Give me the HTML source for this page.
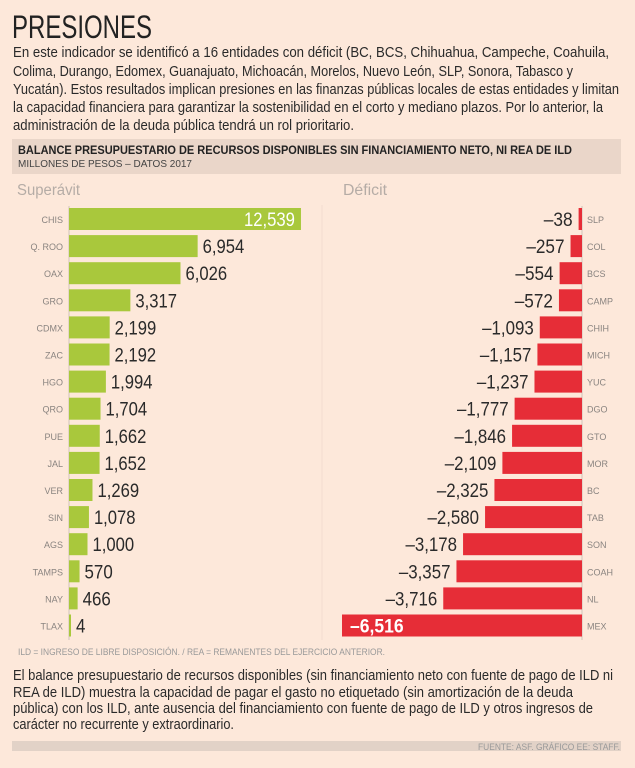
<!DOCTYPE html>
<html><head><meta charset="utf-8"><style>
body{margin:0;background:#fde8da;width:635px;height:768px;overflow:hidden}
svg{position:absolute;left:0;top:0}
</style></head><body>
<svg width="635" height="768" id="s" font-family="Liberation Sans, sans-serif" fill="#2a2a2a">
<text x="12" y="38" font-size="32" textLength="140" lengthAdjust="spacingAndGlyphs" fill="#222">PRESIONES</text>
<g font-size="14.5">
<text x="13" y="57" textLength="596" lengthAdjust="spacingAndGlyphs">En este indicador se identificó a 16 entidades con déficit (BC, BCS, Chihuahua, Campeche, Coahuila,</text>
<text x="13" y="76" textLength="560" lengthAdjust="spacingAndGlyphs">Colima, Durango, Edomex, Guanajuato, Michoacán, Morelos, Nuevo León, SLP, Sonora, Tabasco y</text>
<text x="13" y="94" textLength="606" lengthAdjust="spacingAndGlyphs">Yucatán). Estos resultados implican presiones en las finanzas públicas locales de estas entidades y limitan</text>
<text x="13" y="112" textLength="590" lengthAdjust="spacingAndGlyphs">la capacidad financiera para garantizar la sostenibilidad en el corto y mediano plazos. Por lo anterior, la</text>
<text x="13" y="130" textLength="341" lengthAdjust="spacingAndGlyphs">administración de la deuda pública tendrá un rol prioritario.</text>
</g>
<rect x="12" y="139" width="609" height="35" fill="#ead6c9"/>
<text x="18" y="154" font-size="11.5" font-weight="bold" fill="#222" textLength="554" lengthAdjust="spacingAndGlyphs">BALANCE PRESUPUESTARIO DE RECURSOS DISPONIBLES SIN FINANCIAMIENTO NETO, NI REA DE ILD</text>
<text x="18" y="167" font-size="10.5" fill="#444" textLength="174" lengthAdjust="spacingAndGlyphs">MILLONES DE PESOS – DATOS 2017</text>
<text x="17" y="195" font-size="15.5" fill="#b5aca6" textLength="63" lengthAdjust="spacingAndGlyphs">Superávit</text>
<text x="343" y="195" font-size="15.5" fill="#b5aca6" textLength="44" lengthAdjust="spacingAndGlyphs">Déficit</text>
<line x1="322" y1="205" x2="322" y2="640" stroke="#f3ddd0" stroke-width="1"/>
<line x1="69" y1="206" x2="69" y2="640" stroke="#cfc3ba" stroke-width="1"/>
<line x1="582" y1="206" x2="582" y2="640" stroke="#cfc3ba" stroke-width="1"/>
<text x="18" y="655" font-size="9.5" fill="#999" textLength="367" lengthAdjust="spacingAndGlyphs">ILD = INGRESO DE LIBRE DISPOSICIÓN. / REA = REMANENTES DEL EJERCICIO ANTERIOR.</text>
<g font-size="14.5">
<text x="13" y="680" textLength="600" lengthAdjust="spacingAndGlyphs">El balance presupuestario de recursos disponibles (sin financiamiento neto con fuente de pago de ILD ni</text>
<text x="13" y="697" textLength="560" lengthAdjust="spacingAndGlyphs">REA de ILD) muestra la capacidad de pagar el gasto no etiquetado (sin amortización de la deuda</text>
<text x="13" y="713" textLength="580" lengthAdjust="spacingAndGlyphs">pública) con los ILD, ante ausencia del financiamiento con fuente de pago de ILD y otros ingresos de</text>
<text x="13" y="729" textLength="221" lengthAdjust="spacingAndGlyphs">carácter no recurrente y extraordinario.</text>
</g>
<rect x="12" y="741" width="609" height="10" fill="#e2d2c7"/>
<text x="620" y="750" font-size="9.5" fill="#999" text-anchor="end" textLength="142" lengthAdjust="spacingAndGlyphs">FUENTE: ASF. GRÁFICO EE: STAFF.</text>
</svg>
<script>
var L=[["CHIS",12539],["Q. ROO",6954],["OAX",6026],["GRO",3317],["CDMX",2199],["ZAC",2192],["HGO",1994],["QRO",1704],["PUE",1662],["JAL",1652],["VER",1269],["SIN",1078],["AGS",1000],["TAMPS",570],["NAY",466],["TLAX",4]];
var R=[["SLP",38],["COL",257],["BCS",554],["CAMP",572],["CHIH",1093],["MICH",1157],["YUC",1237],["DGO",1777],["GTO",1846],["MOR",2109],["BC",2325],["TAB",2580],["SON",3178],["COAH",3357],["NL",3716],["MEX",6516]];
function f(n){return n.toLocaleString("en-US")}
function tl(s){var w=0;for(var k=0;k<s.length;k++){var ch=s[k];w+=(ch==",")?4:(ch=="–")?10:9.4;}return w;}
var h="";
for(var i=0;i<16;i++){var c=219+27.1*i,t=c-11;
var v=L[i][1],w=Math.max(2,v*0.0185),s=f(v);
h+='<rect x="69" y="'+t+'" width="'+w+'" height="22" fill="#a9c83c"/>';
h+='<text x="63" y="'+(c+4)+'" font-size="9" fill="#8a8480" text-anchor="end">'+L[i][0]+'</text>';
if(i==0)h+='<text x="'+(69+w-6)+'" y="'+(c+7)+'" font-size="19" fill="#fff" text-anchor="end" textLength="'+tl(s)+'" lengthAdjust="spacingAndGlyphs">'+s+'</text>';
else h+='<text x="'+(69+w+5)+'" y="'+(c+7)+'" font-size="19" fill="#2a2a2a" textLength="'+tl(s)+'" lengthAdjust="spacingAndGlyphs">'+s+'</text>';
var r=R[i][1],rw=(i==15)?240:Math.max(3,2+r*0.0368),rs="–"+f(r);
h+='<rect x="'+(582-rw)+'" y="'+t+'" width="'+rw+'" height="22" fill="#e62d37"/>';
h+='<text x="587" y="'+(c+4)+'" font-size="9" fill="#8a8480">'+R[i][0]+'</text>';
if(i==15)h+='<text x="350" y="'+(c+7)+'" font-size="19" font-weight="bold" fill="#fff" textLength="'+(tl(rs)+2)+'" lengthAdjust="spacingAndGlyphs">'+rs+'</text>';
else h+='<text x="'+(582-rw-6)+'" y="'+(c+7)+'" font-size="19" fill="#2a2a2a" text-anchor="end" textLength="'+tl(rs)+'" lengthAdjust="spacingAndGlyphs">'+rs+'</text>';
}
document.getElementById("s").insertAdjacentHTML("beforeend",h);
</script>
</body></html>
